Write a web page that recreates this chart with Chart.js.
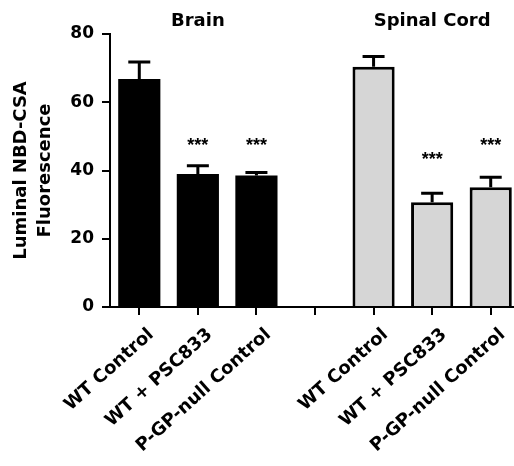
<!DOCTYPE html>
<html>
<head>
<meta charset="utf-8">
<script src="https://cdn.jsdelivr.net/npm/chart.js@4"></script>
<style>
html, body { margin: 0; padding: 0; background: #fff; overflow: hidden; }
#wrap { width: 514px; height: 466px; overflow: hidden; }
</style>
</head>
<body>
<div id="wrap"><canvas id="myChart" width="520" height="466"></canvas></div>
<script>
// values
const labels = ['WT Control', 'WT + PSC833', 'P-GP-null Control', '', 'WT Control', 'WT + PSC833', 'P-GP-null Control'];
const means = [66.8, 39.0, 38.5, null, 70.4, 30.7, 35.1];
const errTop = [71.8, 41.4, 39.4, null, 73.4, 33.3, 38.0];
const stars = ['', '***', '***', '', '', '***', '***'];
const starLevel = [null, 48.4, 48.4, null, null, 44.5, 48.4];
const groupNames = ['Brain', 'Spinal Cord'];
const groupMid = [1, 5];
const yTicks = [0, 20, 40, 60, 80];

const fills = ['#000', '#000', '#000', '#000', '#d6d6d6', '#d6d6d6', '#d6d6d6'];
const borders = [0, 0, 0, 0, 3, 3, 3];

const extras = {
    id: 'extras',
    afterDatasetsDraw(chart) {
        const ctx = chart.ctx;
        const y = chart.scales.y;
        const bars = chart.getDatasetMeta(0).data;
        ctx.save();
        ctx.strokeStyle = '#000';
        ctx.fillStyle = '#000';
        ctx.lineWidth = 3;
        bars.forEach((bar, i) => {
            if (errTop[i] == null) return;
            const x = bar.x;
            const y0 = y.getPixelForValue(means[i]);
            const y1 = y.getPixelForValue(errTop[i]);
            ctx.beginPath();
            ctx.moveTo(x, y0);
            ctx.lineTo(x, y1);
            ctx.moveTo(x - 11, y1);
            ctx.lineTo(x + 11, y1);
            ctx.stroke();
            if (stars[i]) {
                ctx.font = 'bold 18px "Liberation Sans", Arial';
                ctx.textAlign = 'center';
                ctx.textBaseline = 'alphabetic';
                ctx.fillText(stars[i], x, y.getPixelForValue(starLevel[i]) + 9.5);
            }
        });
        ctx.font = 'bold 18px "DejaVu Sans"';
        ctx.textAlign = 'center';
        ctx.textBaseline = 'alphabetic';
        groupNames.forEach((name, g) => {
            ctx.fillText(name, bars[groupMid[g]].x, 26);
        });
        ctx.restore();
    }
};

const data = {
    labels: labels,
    datasets: [{
        data: means,
        backgroundColor: fills,
        borderColor: '#000',
        borderWidth: borders,
        barPercentage: 0.72,
        categoryPercentage: 1
    }]
};

const config = {
    type: 'bar',
    data: data,
    options: {
        responsive: false,
        animation: false,
        layout: { padding: { top: 34, left: 0, right: 0, bottom: 0 } },
        plugins: {
            legend: { display: false },
            tooltip: { enabled: false }
        },
        scales: {
            x: {
                afterFit: (s) => { s.height = 159; },
                grid: { offset: false, drawOnChartArea: false, tickLength: 8, color: '#000', lineWidth: 2 },
                border: { color: '#000', width: 2 },
                ticks: {
                    color: '#000',
                    minRotation: 42,
                    maxRotation: 42,
                    labelOffset: 12,
                    padding: 9,
                    autoSkip: false,
                    font: { family: 'DejaVu Sans', weight: 'bold', size: 18 }
                }
            },
            y: {
                min: 0,
                max: 80,
                afterFit: (s) => { s.width = 110; },
                afterBuildTicks: (s) => { s.ticks = yTicks.map(v => ({ value: v })); },
                grid: { drawOnChartArea: false, tickLength: 8, color: '#000', lineWidth: 2 },
                border: { color: '#000', width: 2 },
                ticks: {
                    color: '#000',
                    padding: 8,
                    font: { family: 'DejaVu Sans', weight: 'bold', size: 17 }
                },
                title: {
                    display: true,
                    text: ['Luminal NBD-CSA', 'Fluorescence'],
                    color: '#000',
                    padding: { top: 9, bottom: 0 },
                    font: { family: 'DejaVu Sans', weight: 'bold', size: 18, lineHeight: 1.33 }
                }
            }
        }
    },
    plugins: [extras]
};

const myChart = new Chart(document.getElementById('myChart'), config);
</script>
</body>
</html>
